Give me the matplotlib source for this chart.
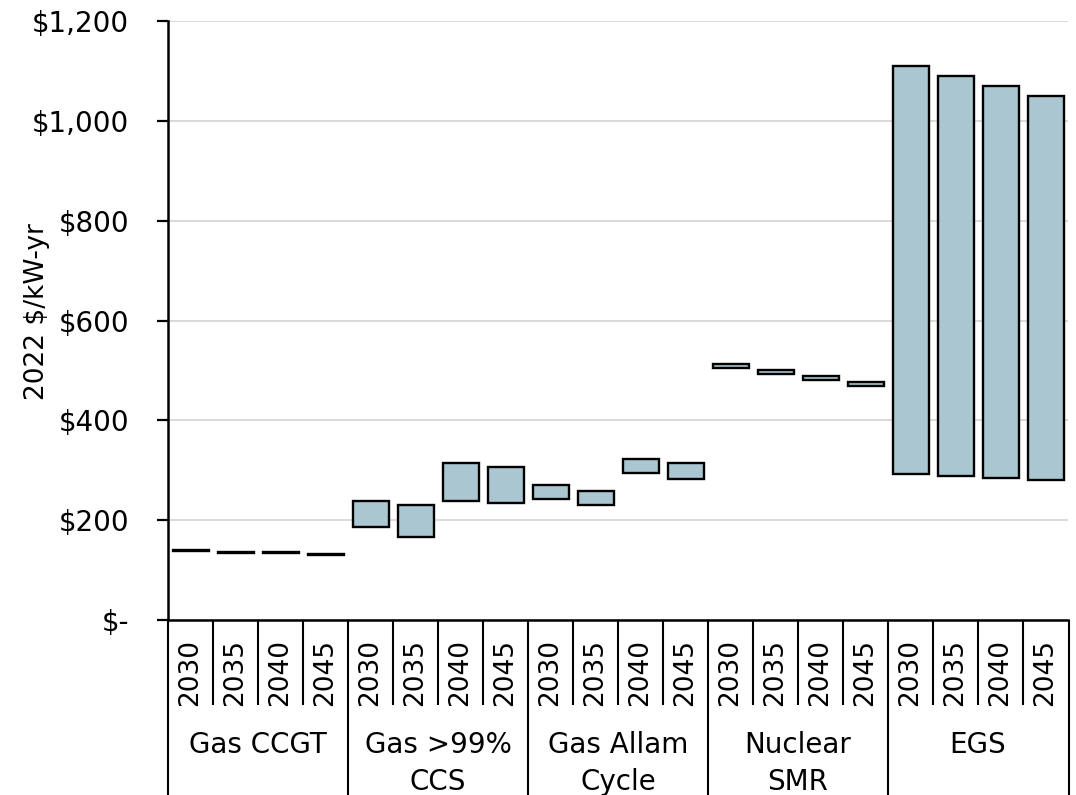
import matplotlib
matplotlib.use("Agg")
import matplotlib.pyplot as plt
from matplotlib.ticker import FuncFormatter
from matplotlib.lines import Line2D

plt.rcParams['font.family'] = ['DejaVu Sans']

groups = ["Gas CCGT", "Gas >99%\nCCS", "Gas Allam\nCycle", "Nuclear\nSMR", "EGS"]
years = ["2030", "2035", "2040", "2045"]

low = [138, 134, 134, 130,
       187, 167, 238, 234,
       243, 230, 295, 283,
       505, 493, 481, 469,
       293, 289, 285, 281]
high = [140, 136, 136, 132,
        239, 231, 315, 307,
        271, 259, 323, 315,
        513, 501, 489, 477,
        1109, 1089, 1069, 1049]

yticks = [0, 200, 400, 600, 800, 1000, 1200]

W, H = 1076, 795
fig = plt.figure(figsize=(W / 100, H / 100), dpi=100)
ax_left, ax_right, ax_bot, ax_top = 168, 1068, 620, 21
ax = fig.add_axes([ax_left / W, 1 - ax_bot / H, (ax_right - ax_left) / W, (ax_bot - ax_top) / H])

n = len(low)
xs = list(range(n))
heights = [h - l for h, l in zip(high, low)]
ax.bar(xs, heights, bottom=low, width=0.8, color="#a9c6d1",
       edgecolor="black", linewidth=1.7, zorder=3)

ax.set_xlim(-0.5, n - 0.5)
ax.set_ylim(0, 1200)
ax.set_yticks(yticks)
ax.yaxis.set_major_formatter(FuncFormatter(lambda v, p: "$-" if v == 0 else "${:,.0f}".format(v)))
ax.tick_params(axis='y', direction='out', length=8, width=1.6, pad=20, labelsize=20, colors='black')
ax.set_xticks([])
ax.grid(axis='y', color='#d9d9d9', linewidth=1.4, zorder=0)
ax.set_axisbelow(True)
for s in ['top', 'right']:
    ax.spines[s].set_visible(False)
ax.spines['left'].set_linewidth(1.8)
ax.spines['bottom'].set_linewidth(1.8)
ax.spines['bottom'].set_zorder(4)

ax.set_ylabel("2022 $/kW-yr", fontsize=19)
ax.yaxis.set_label_coords(-0.131, 0.515)

axh = ax_bot - ax_top
def fy(py):
    return (ax_bot - py) / axh

tr = ax.get_xaxis_transform()
y_row = fy(705)
y_bottom = fy(800)
for i in range(n):
    yb = y_bottom if i % 4 == 0 else y_row
    ax.plot([i - 0.5, i - 0.5], [0, yb], transform=tr, color='black',
            linewidth=1.5, clip_on=False, solid_capstyle='butt')
# right-hand border of the category table
fig.add_artist(Line2D([(ax_right + 0.5) / W] * 2, [1 - ax_bot / H, 0.0],
                      color='black', linewidth=1.5, solid_capstyle='butt'))

for i in range(n):
    ax.text(i, fy(672), years[i % 4], transform=tr, rotation=90,
            ha='center', va='center', fontsize=19)

for g, name in enumerate(groups):
    ax.text(g * 4 + 1.5, fy(731), name, transform=tr, ha='center', va='top',
            fontsize=20, linespacing=1.4)

fig.savefig("out.png", dpi=100)
